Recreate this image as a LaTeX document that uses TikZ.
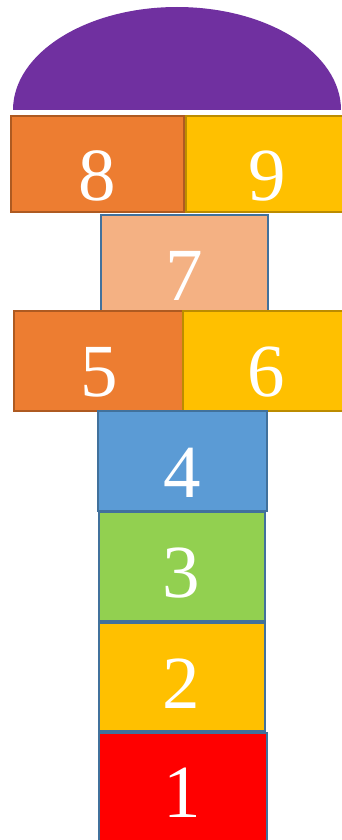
\documentclass[tikz,border=0pt]{standalone}
\usepackage{fontspec}
\setmainfont{Liberation Serif}
\definecolor{hpurple}{HTML}{7030A0}
\definecolor{horange}{HTML}{ED7D31}
\definecolor{horangeb}{HTML}{AE5A21}
\definecolor{hgold}{HTML}{FFC000}
\definecolor{hgoldb}{HTML}{BC8C00}
\definecolor{hpeach}{HTML}{F4B183}
\definecolor{hblue}{HTML}{5B9BD5}
\definecolor{hblueb}{HTML}{41719C}
\definecolor{hgreen}{HTML}{92D050}
\definecolor{hred}{HTML}{FF0000}
\tikzset{
  cell/.style={line width=1.5pt},
  digit/.style={text=white, anchor=base, inner sep=0pt, font=\fontsize{75}{75}\selectfont}
}
\begin{document}
\begin{tikzpicture}[x=1pt,y=-1pt]
\useasboundingbox (0,0) rectangle (342,840);
\clip (0,0) rectangle (342,840);
% dome
\begin{scope}
\clip (0,0) rectangle (342,110);
\fill[hpurple] (177,110) ellipse [x radius=164pt, y radius=103pt];
\end{scope}
% row 8/9
\draw[cell, fill=horange, draw=horangeb] (11,116) rectangle (184,212);
\draw[cell, fill=hgold, draw=hgoldb] (186,116) rectangle (350,212);
\node[digit] (n8) at (97,200) {8};
\node[digit] (n9) at (267,200) {9};
% 7
\draw[cell, fill=hpeach, draw=hblueb] (101,215) rectangle (268,311);
\node[digit] (n7) at (184,300) {7};
% row 5/6
\draw[cell, fill=horange, draw=horangeb] (14,311) rectangle (183,411);
\draw[cell, fill=hgold, draw=hgoldb] (183,311) rectangle (350,411);
\node[digit] (n5) at (99,396) {5};
\node[digit] (n6) at (266,396) {6};
% 4
\draw[cell, fill=hblue, draw=hblueb] (98,411) rectangle (267,511);
\node[digit] (n4) at (182,497) {4};
% 3
\draw[cell, fill=hgreen, draw=hblueb] (99,512) rectangle (265,621);
\node[digit] (n3) at (181,597) {3};
% 2
\draw[cell, fill=hgold, draw=hblueb] (99,623) rectangle (265,731);
\node[digit] (n2) at (181,708) {2};
% 1
\draw[cell, fill=hred, draw=hblueb] (99,733) rectangle (267,850);
\node[digit] (n1) at (182,817) {1};
\end{tikzpicture}
\end{document}
